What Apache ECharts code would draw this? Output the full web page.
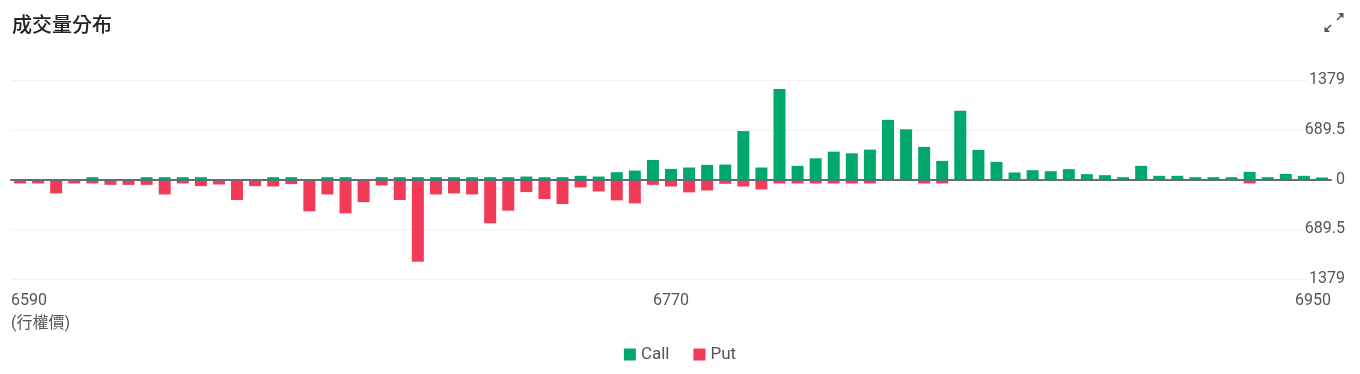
<!DOCTYPE html>
<html>
<head>
<meta charset="utf-8">
<script src="https://cdn.jsdelivr.net/npm/echarts@6/dist/echarts.min.js"></script>
<style>
html,body{margin:0;padding:0;background:#fff;}
#c{width:1360px;height:374px;}
</style>
</head>
<body>
<div id="c"></div>
<script>
var strikes = [6590,6595,6600,6605,6610,6615,6620,6625,6630,6635,6640,6645,6650,6655,6660,6665,6670,6675,6680,6685,6690,6695,6700,6705,6710,6715,6720,6725,6730,6735,6740,6745,6750,6755,6760,6765,6770,6775,6780,6785,6790,6795,6800,6805,6810,6815,6820,6825,6830,6835,6840,6845,6850,6855,6860,6865,6870,6875,6880,6885,6890,6895,6900,6905,6910,6915,6920,6925,6930,6935,6940,6945,6950];
var callVol = [0,0,0,0,32,0,0,32,32,32,32,0,0,0,32,32,0,32,32,0,32,32,32,32,32,32,32,32,41,32,32,51,41,101,124,271,147,166,202,207,671,166,1254,189,294,386,363,414,827,696,452,258,954,410,244,97,129,115,143,74,60,32,189,51,51,32,32,32,106,32,78,51,28];
var putVol = [55,55,193,55,55,74,74,74,207,55,92,69,285,92,97,64,441,207,469,313,83,285,1140,207,193,207,607,432,175,271,340,110,166,290,331,74,97,179,152,60,97,138,55,55,55,55,55,55,0,0,55,55,0,0,0,0,0,0,0,0,0,0,0,0,0,0,0,0,55,0,0,0,0];
var yTicks = [-1379, -689.5, 0, 689.5, 1379];
var xTickMin = 6590, xTickMax = 6950, xTickStep = 180;
var seriesNames = ['Call', 'Put'];
var titleText = '成交量分布';
var strikeLabel = '(行權價)';

var chart = echarts.init(document.getElementById('c'), null, {renderer: 'canvas'});
var labelColor = '#555';
var fontNum = 'Roboto, "Noto Sans CJK TC", sans-serif';

chart.setOption({
  animation: false,
  backgroundColor: '#fff',
  title: {
    text: titleText,
    left: 7,
    top: 9,
    textStyle: {fontSize: 20, fontWeight: 500, color: '#222', fontFamily: '"Noto Sans CJK TC", sans-serif'}
  },
  legend: {
    data: seriesNames,
    bottom: 6,
    left: 'center',
    icon: 'rect',
    itemWidth: 12,
    itemHeight: 12,
    itemGap: 24,
    textStyle: {fontSize: 17, color: labelColor, fontFamily: fontNum}
  },
  grid: {left: 11, right: 29, top: 80, bottom: 95, containLabel: false},
  xAxis: [
    {
      type: 'category',
      data: strikes,
      z: 3,
      axisLine: {onZero: true, lineStyle: {color: '#626c7a', width: 2}},
      axisTick: {show: false},
      axisLabel: {show: false},
      splitLine: {show: false}
    },
    {
      type: 'value',
      min: xTickMin,
      max: xTickMax,
      interval: xTickStep,
      position: 'bottom',
      axisLine: {show: false, onZero: false},
      axisTick: {show: false},
      splitLine: {show: false},
      axisLabel: {
        show: true,
        margin: 10,
        alignMinLabel: 'left',
        alignMaxLabel: 'right',
        fontSize: 16,
        lineHeight: 23,
        color: labelColor,
        fontFamily: fontNum,
        formatter: function (v) {
          return v === xTickMin ? v + '\n' + strikeLabel : String(v);
        }
      }
    }
  ],
  yAxis: {
    type: 'value',
    position: 'right',
    min: yTicks[0],
    max: yTicks[yTicks.length - 1],
    interval: yTicks[1] - yTicks[0],
    axisLine: {show: false},
    axisTick: {show: false},
    splitLine: {lineStyle: {color: '#f0f0f0', width: 1}},
    axisLabel: {
      margin: 14,
      align: 'right',
      fontSize: 16,
      color: labelColor,
      fontFamily: fontNum,
      backgroundColor: '#fff',
      padding: [0, 0, 0, 2],
      formatter: function (v) { return String(Math.abs(v)); }
    }
  },
  series: [
    {
      name: seriesNames[0],
      type: 'bar',
      xAxisIndex: 0,
      barWidth: 12,
      barGap: '-100%',
      itemStyle: {color: '#00a86b'},
      data: callVol
    },
    {
      name: seriesNames[1],
      type: 'bar',
      xAxisIndex: 0,
      barWidth: 12,
      barGap: '-100%',
      itemStyle: {color: '#f23a59'},
      data: putVol.map(function (v) { return -v; })
    }
  ],
  graphic: [
    {type: 'line', shape: {x1: 1337, y1: 20, x2: 1342, y2: 15}, style: {stroke: '#555', lineWidth: 1.6}},
    {type: 'polygon', shape: {points: [[1338, 13], [1343.5, 13], [1343.5, 18.5]]}, style: {fill: '#555'}},
    {type: 'line', shape: {x1: 1331, y1: 25, x2: 1326, y2: 30}, style: {stroke: '#555', lineWidth: 1.6}},
    {type: 'polygon', shape: {points: [[1324.5, 26.5], [1324.5, 32], [1330, 32]]}, style: {fill: '#555'}}
  ]
});
</script>
</body>
</html>
